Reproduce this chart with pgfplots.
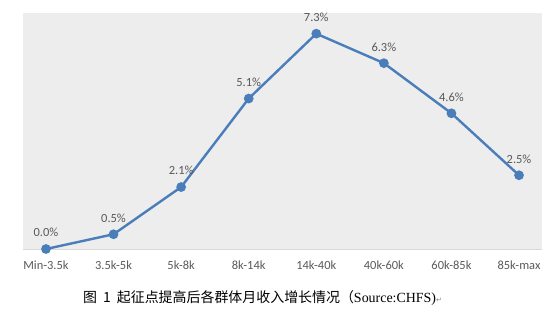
\documentclass[border=0pt]{standalone}
\usepackage{pgfplots}
\pgfplotsset{compat=1.18}
\usepackage{fontspec}
\setmainfont{Carlito}
\newfontfamily\cjk{Noto Sans CJK SC}
\newfontfamily\tnr{Liberation Serif}
\newfontfamily\djv{DejaVu Sans}
\definecolor{lineblue}{HTML}{4A7EBB}
\definecolor{bggray}{HTML}{EDEDED}
\definecolor{txtgray}{HTML}{595959}
\definecolor{axgray}{HTML}{D9D9D9}
\begin{document}
\begin{tikzpicture}
\path[use as bounding box] (0,0) rectangle (550bp,322bp);
\begin{axis}[
  at={(23bp,73bp)}, anchor=south west,
  scale only axis, width=519bp, height=236bp,
  xmin=-0.34, xmax=7.34, ymin=0, ymax=8,
  xtick={0,...,7},
  xticklabels={Min-3.5k,3.5k-5k,5k-8k,8k-14k,14k-40k,40k-60k,60k-85k,85k-max},
  ytick=\empty,
  major tick length=0pt,
  axis line style={draw=none},
  axis background/.style={fill=bggray},
  xticklabel style={font=\fontsize{12.5}{14}\selectfont, text=txtgray, yshift=-8bp},
  /pgf/number format/assume math mode=true,
  nodes near coords={\pgfmathprintnumber[fixed,fixed zerofill,precision=1]{\pgfplotspointmeta}\%},
  nodes near coords style={anchor=south, yshift=7.5bp, font=\fontsize{12.5}{14}\selectfont, text=txtgray},
  clip=false,
]
\draw[axgray, line width=1bp] (rel axis cs:0,0) -- (rel axis cs:1,0);
\addplot[lineblue, line width=2.4bp, mark=*, mark size=3.6bp, mark options={fill=lineblue, draw=lineblue}]
  coordinates {(0,0.0) (1,0.5) (2,2.1) (3,5.1) (4,7.3) (5,6.3) (6,4.6) (7,2.5)};
\end{axis}
\node[anchor=base west, inner sep=0pt] at (83bp,20bp) {\fontsize{14}{16}\selectfont\cjk 图\hspace{6bp}1\hspace{6bp}起征点提高后各群体月收入增长情况（{\tnr Source:CHFS)}{\djv\fontsize{7}{8}\selectfont\color{gray}↵}};
\end{tikzpicture}
\end{document}
